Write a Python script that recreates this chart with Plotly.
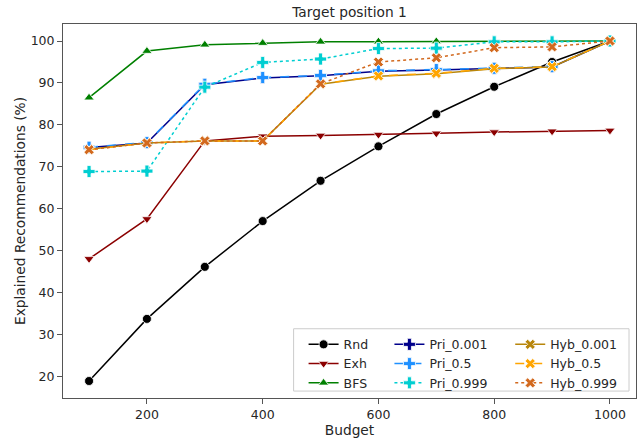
import plotly.graph_objects as go

budget = [100, 200, 300, 400, 500, 600, 700, 800, 900, 1000]

rnd = [19.0, 33.8, 46.2, 57.1, 66.7, 74.9, 82.6, 89.1, 95.0, 100.0]
exh = [48.1, 57.6, 76.2, 77.3, 77.5, 77.7, 78.0, 78.3, 78.5, 78.7]
bfs = [86.5, 97.6, 99.1, 99.5, 99.8, 99.85, 99.9, 99.95, 100.0, 100.0]
pri_0001 = [74.6, 75.7, 89.6, 91.2, 91.7, 92.8, 93.1, 93.5, 93.8, 100.0]
pri_05 = [74.7, 75.8, 89.7, 91.3, 91.8, 92.9, 93.2, 93.5, 93.9, 100.0]
pri_0999 = [68.9, 69.0, 89.0, 94.9, 95.7, 98.2, 98.3, 99.8, 99.8, 100.0]
hyb_0001 = [74.2, 75.7, 76.2, 76.2, 89.7, 91.6, 92.2, 93.4, 93.8, 100.0]
hyb_05 = [74.1, 75.7, 76.2, 76.2, 89.7, 91.7, 92.3, 93.5, 93.9, 100.0]
hyb_0999 = [74.1, 75.7, 76.2, 76.2, 89.8, 95.0, 96.0, 98.4, 98.6, 100.0]

series = [
    ("Rnd", rnd, "black", "solid", "circle", 9, "legend"),
    ("Exh", exh, "#8B0000", "solid", "triangle-down", 9, "legend"),
    ("BFS", bfs, "#008000", "solid", "triangle-up", 9, "legend"),
    ("Pri_0.001", pri_0001, "#00008B", "solid", "cross", 10, "legend2"),
    ("Pri_0.5", pri_05, "#1E90FF", "dash", "cross", 10, "legend2"),
    ("Pri_0.999", pri_0999, "#00CED1", "dot", "cross", 10, "legend2"),
    ("Hyb_0.001", hyb_0001, "#B8860B", "solid", "x", 9, "legend3"),
    ("Hyb_0.5", hyb_05, "#FFA500", "dash", "x", 9, "legend3"),
    ("Hyb_0.999", hyb_0999, "#D2691E", "dot", "x", 9, "legend3"),
]

fig = go.Figure()
for name, vals, color, dash, sym, size, leg in series:
    fig.add_trace(go.Scatter(
        x=budget, y=vals, name=name, mode="lines+markers",
        line=dict(color=color, width=1.5, dash=dash),
        marker=dict(symbol=sym, size=size, color=color,
                    line=dict(color="white", width=0.8)),
        legend=leg,
    ))

W, H = 641, 439
L, R, T, B = 63, 4, 24, 37
pw, ph = W - L - R, H - T - B

def px_x(p):
    return (p - L) / pw

def px_y(p):
    return (H - B - p) / ph

txt = "#262626"
legfont = dict(family="DejaVu Sans", size=12.5, color=txt)
common_leg = dict(font=legfont, bgcolor="rgba(0,0,0,0)", borderwidth=0,
                  xanchor="left", yanchor="top", tracegroupgap=0,
                  itemwidth=30)

fig.update_layout(
    width=W, height=H,
    margin=dict(l=L, r=R, t=T, b=B, pad=0),
    paper_bgcolor="white", plot_bgcolor="white",
    font=dict(family="DejaVu Sans", size=12.5, color=txt),
    title=dict(text="Target position 1", x=px_x(350), xref="paper",
               xanchor="center", y=1 - 12.5 / H, yanchor="middle",
               font=dict(size=13.75, color=txt)),
    xaxis=dict(range=[55, 1045], tickvals=[200, 400, 600, 800, 1000],
               showgrid=False, zeroline=False, showline=True, mirror=True,
               linecolor="#555555", linewidth=1, ticks="outside", ticklen=5,
               tickcolor="#555555", tickfont=dict(size=12.5, color=txt),
               title=dict(text="Budget", font=dict(size=13.75, color=txt),
                          standoff=3)),
    yaxis=dict(range=[14.95, 104.05], tickvals=[20, 30, 40, 50, 60, 70, 80, 90, 100],
               showgrid=False, zeroline=False, showline=True, mirror=True,
               linecolor="#555555", linewidth=1, ticks="outside", ticklen=5,
               tickcolor="#555555", tickfont=dict(size=12.5, color=txt),
               title=dict(text="Explained Recommendations (%)",
                          font=dict(size=13.75, color=txt), standoff=1)),
    legend=dict(x=px_x(304), y=px_y(333), **common_leg),
    legend2=dict(x=px_x(390), y=px_y(333), **common_leg),
    legend3=dict(x=px_x(511), y=px_y(333), **common_leg),
    shapes=[dict(type="rect", xref="paper", yref="paper",
                 x0=px_x(294), x1=px_x(630), y0=px_y(395), y1=px_y(332),
                 line=dict(color="#cccccc", width=1),
                 fillcolor="rgba(255,255,255,0.8)", layer="above")],
    showlegend=True,
)

fig.write_html("out.html")
